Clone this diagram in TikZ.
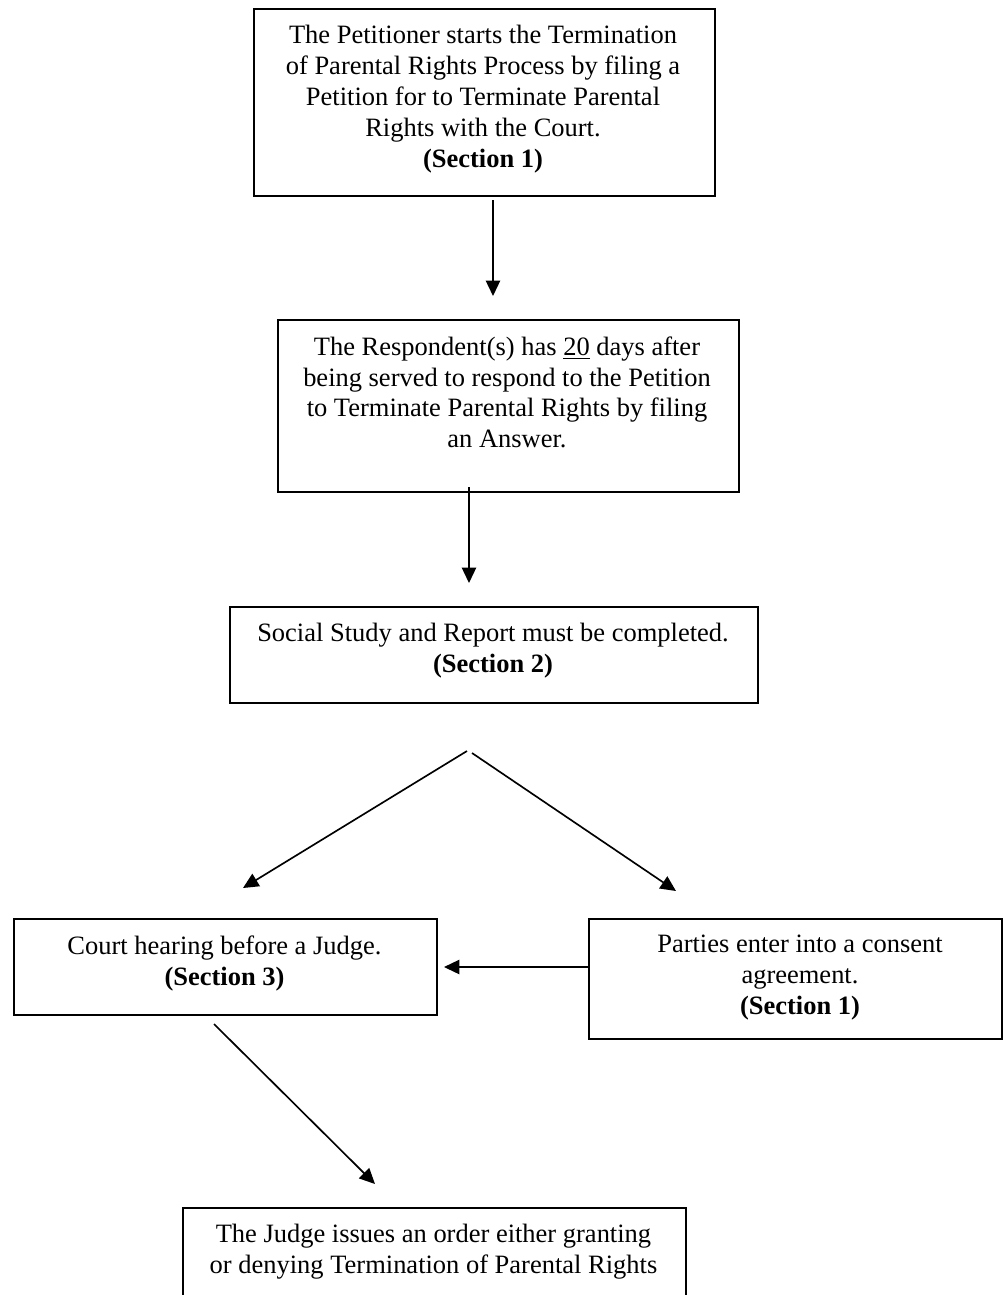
\documentclass[tikz,border=0pt]{standalone}
\usepackage{fontspec}
\setmainfont{Liberation Serif}
\usetikzlibrary{arrows.meta}
\begin{document}
\begin{tikzpicture}[x=0.4531pt,y=-0.4531pt,
  box/.style={draw, line width=0.9pt, inner sep=0pt, anchor=north west},
  txt/.style={anchor=north, align=center, inner sep=0pt, font=\fontsize{12}{14}\selectfont},
  arr/.style={line width=0.75pt, -{Triangle[length=7pt,width=6.5pt]}}]
\useasboundingbox (0,0) rectangle (1003,1295);
\fill[white] (0,0) rectangle (1003,1295);
\clip (0,0) rectangle (1003,1295);

% boxes
\node[box, minimum width=461*0.4531pt, minimum height=187*0.4531pt] (B1) at (253,8) {};
\node[box, minimum width=461*0.4531pt, minimum height=172*0.4531pt] (B2) at (277,319) {};
\node[box, minimum width=528*0.4531pt, minimum height=96*0.4531pt] (B3) at (229,606) {};
\node[box, minimum width=423*0.4531pt, minimum height=96*0.4531pt] (B4) at (13,918) {};
\node[box, minimum width=413*0.4531pt, minimum height=120*0.4531pt] (B5) at (588,918) {};
\node[box, minimum width=503*0.4531pt, minimum height=110*0.4531pt] (B6) at (182,1207) {};

% texts
\node[txt] (T1) at (483,25) {The Petitioner starts the Termination\\ of Parental Rights Process by filing a\\ Petition for to Terminate Parental\\ Rights with the Court.\\ \textbf{(Section 1)}};
\node[txt] (T2) at (507,336) {The Respondent(s) has \underline{20} days after\\ being served to respond to the Petition\\ to Terminate Parental Rights by filing\\ an Answer.};
\node[txt] (T3) at (493,623) {Social Study and Report must be completed.\\ \textbf{(Section 2)}};
\node[txt] (T4) at (224.5,935) {Court hearing before a Judge.\\ \textbf{(Section 3)}};
\node[txt] (T5) at (800,935) {Parties enter into a consent\\ agreement.\\ \textbf{(Section 1)}};
\node[txt] (T6) at (433.5,1224) {The Judge issues an order either granting\\ or denying Termination of Parental Rights};

% connector end points
\coordinate (a1s) at (493,200);
\coordinate (a1e) at (493,296);
\coordinate (a2s) at (469,487);
\coordinate (a2e) at (469,583);
\coordinate (apxL) at (467,751);
\coordinate (apxR) at (472,753);
\coordinate (tipL) at (243,888);
\coordinate (tipR) at (676,891);
\coordinate (a5s) at (588,967);
\coordinate (a5e) at (444,967);
\coordinate (a6s) at (214,1024);
\coordinate (a6e) at (375,1184);

\draw[arr] (a1s) -- (a1e);
\draw[arr] (a2s) -- (a2e);
\draw[arr] (apxL) -- (tipL);
\draw[arr] (apxR) -- (tipR);
\draw[arr] (a5s) -- (a5e);
\draw[arr] (a6s) -- (a6e);
\end{tikzpicture}
\end{document}
